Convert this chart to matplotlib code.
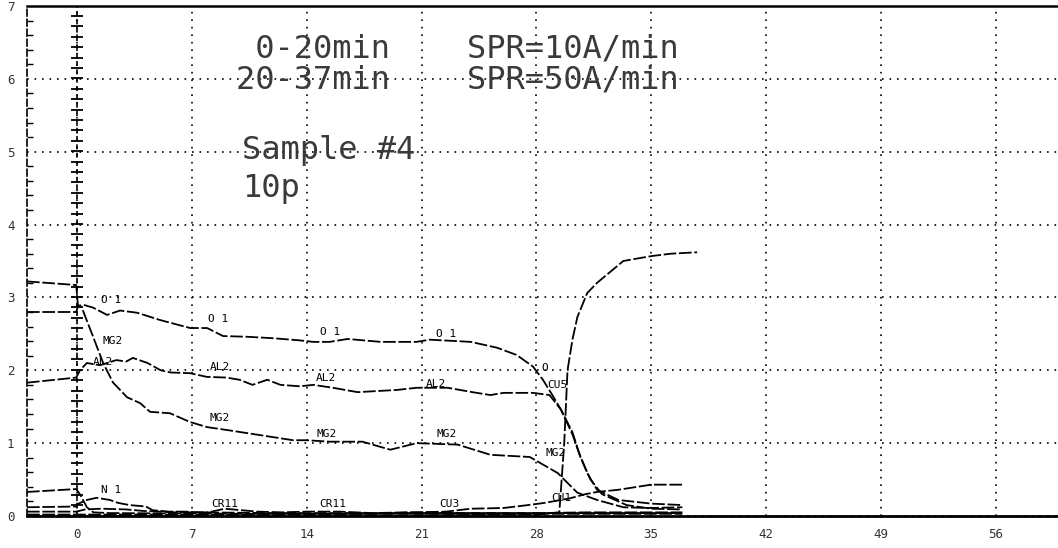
import matplotlib
matplotlib.use('Agg')
import matplotlib.pyplot as plt
import numpy as np

# sputter depth profile, sample #4 - x is sputter time (min), y is signal
o1_x = [-3.05, -0.05, 0.06, 0.37, 0.98, 1.83, 2.62, 3.66, 5.06, 6.89, 7.93, 8.9, 10.37, 11.95,
        13.6, 14.4, 15.4, 16.5, 18.5, 20.7, 21.5, 24.0, 25.6, 26.8, 27.8, 28.4, 29.0, 29.5,
        30.2, 30.6, 31.1, 31.7, 33.0, 35.0, 36.9]
o1_y = [2.8, 2.8, 2.88, 2.9, 2.86, 2.76, 2.82, 2.79, 2.69, 2.58, 2.58, 2.47, 2.46, 2.44,
        2.41, 2.39, 2.39, 2.43, 2.39, 2.39, 2.42, 2.39, 2.31, 2.21, 2.05, 1.87, 1.65, 1.46,
        1.15, 0.87, 0.59, 0.36, 0.22, 0.17, 0.15]

mg2_x = [-3.05, -0.05, 0.05, 0.29, 0.98, 1.59, 2.2, 3.05, 3.84, 4.45, 5.67, 6.89, 7.93, 9.15,
         11.16, 13.17, 14.0, 15.4, 17.4, 19.1, 20.7, 23.2, 25.2, 27.6, 29.3, 30.5, 31.7,
         33.3, 34.9, 36.9]
mg2_y = [3.22, 3.17, 2.9, 2.86, 2.46, 2.1, 1.83, 1.63, 1.55, 1.43, 1.41, 1.29, 1.22, 1.18,
         1.11, 1.04, 1.04, 1.02, 1.02, 0.91, 1.0, 0.98, 0.84, 0.81, 0.59, 0.32, 0.22,
         0.12, 0.11, 0.12]

al2_x = [-3.05, -0.05, 0.18, 0.6, 1.4, 2.4, 3.0, 3.4, 4.3, 5.1, 5.7, 6.9, 7.9, 9.1, 9.9, 10.7,
         11.6, 12.4, 13.6, 14.4, 15.6, 17.1, 19.5, 20.7, 22.6, 24.1, 25.2, 26.0, 27.8, 28.8,
         29.5, 30.2, 30.7, 31.3, 32.0, 33.5, 35.0, 36.9]
al2_y = [1.83, 1.9, 2.0, 2.1, 2.07, 2.14, 2.12, 2.17, 2.1, 2.0, 1.97, 1.96, 1.91, 1.9, 1.87, 1.8,
         1.87, 1.8, 1.78, 1.8, 1.76, 1.7, 1.73, 1.76, 1.76, 1.7, 1.66, 1.69, 1.69, 1.66,
         1.46, 1.12, 0.8, 0.5, 0.3, 0.15, 0.1, 0.09]

n1_x = [-3.05, -0.05, 0.0, 0.6, 1.2, 2.0, 2.5, 3.2, 4.2, 4.6, 5.6, 6.6, 7.5, 12.0, 20.0, 28.0, 36.9]
n1_y = [0.12, 0.13, 0.16, 0.22, 0.25, 0.22, 0.18, 0.15, 0.13, 0.08, 0.06, 0.06, 0.05, 0.04,
        0.04, 0.04, 0.04]

c1_x = [-3.05, -0.05, 0.2, 0.6, 1.0, 2.0, 10.0, 20.0, 30.0, 36.9]
c1_y = [0.33, 0.37, 0.29, 0.12, 0.05, 0.04, 0.03, 0.03, 0.03, 0.03]

cr11_x = [-3.05, -0.05, 0.5, 1.5, 3.0, 4.0, 6.0, 8.0, 9.0, 10.0, 11.0, 12.5, 14.0, 16.0, 18.0,
          20.0, 24.0, 28.0, 31.0, 36.9]
cr11_y = [0.06, 0.06, 0.09, 0.1, 0.09, 0.07, 0.05, 0.05, 0.1, 0.08, 0.06, 0.05, 0.06, 0.06, 0.04,
          0.05, 0.04, 0.04, 0.05, 0.05]

cu3_x = [-3.05, 0.0, 10.0, 18.0, 20.5, 22.5, 24.0, 26.0, 27.5, 28.5, 30.0, 31.0, 31.7, 33.0,
         35.0, 36.9]
cu3_y = [0.02, 0.02, 0.02, 0.03, 0.05, 0.06, 0.1, 0.11, 0.15, 0.18, 0.24, 0.3, 0.33, 0.36,
         0.43, 0.43]

cu5_x = [-3.05, 10.0, 20.0, 28.0, 29.4, 29.7, 29.9, 30.2, 30.5, 31.1, 31.7, 32.5, 33.3, 34.3,
         35.1, 36.2, 37.8]
cu5_y = [0.01, 0.01, 0.01, 0.02, 0.05, 1.0, 2.0, 2.42, 2.73, 3.06, 3.2, 3.35, 3.5, 3.54,
         3.57, 3.6, 3.62]

# curve tags written on the trace by the plotter
tag_text = ['O 1', 'O 1', 'O 1', 'O 1', 'MG2', 'AL2', 'AL2', 'AL2', 'AL2', 'MG2', 'MG2', 'MG2',
            'MG2', 'O', 'CU5', 'N 1', 'CR11', 'CR11', 'CU3', 'CU1']
tag_x = [2.1, 8.6, 15.4, 22.5, 2.2, 1.6, 8.7, 15.2, 21.9, 8.7, 15.2, 22.5, 29.2, 28.5, 29.3,
         2.1, 9.0, 15.6, 22.7, 29.5]
tag_y = [2.96, 2.7, 2.52, 2.5, 2.4, 2.12, 2.04, 1.9, 1.81, 1.35, 1.13, 1.13, 0.87, 2.03, 1.8,
         0.36, 0.17, 0.17, 0.17, 0.25]

x_ticks = [0, 7, 14, 21, 28, 35, 42, 49, 56]
y_ticks = [0, 1, 2, 3, 4, 5, 6, 7]

mono = 'DejaVu Sans Mono'
trace = (0, (7, 1.5))

fig = plt.figure(figsize=(10.58, 5.48), dpi=100)
ax = fig.add_axes([27 / 1058, 32 / 548, 1031 / 1058, 510 / 548])
ax.set_xlim(-3.05, 59.8)
ax.set_ylim(0, 7)

ax.set_xticks(x_ticks)
ax.set_yticks(y_ticks)
ax.set_xticklabels([str(t) for t in x_ticks], family=mono, fontsize=9, color='#333333')
ax.set_yticklabels([str(t) for t in y_ticks], family=mono, fontsize=9, color='#333333')
ax.set_yticks(np.arange(0, 7, 0.2), minor=True)
ax.tick_params(axis='both', which='major', length=0)
ax.tick_params(axis='x', pad=9)
ax.tick_params(axis='y', pad=9)
ax.tick_params(axis='y', which='minor', direction='in', length=4, width=1, color='black')
ax.grid(True, color='black', linestyle=(0, (1, 3.5)), linewidth=1.2)

ax.spines['right'].set_visible(False)
ax.spines['top'].set_linewidth(1.8)
ax.spines['bottom'].set_linewidth(2)
ax.spines['left'].set_linewidth(1.2)
ax.spines['left'].set_linestyle((0, (4, 2)))

# start-of-sputter cursor at t=0
ax.axvline(0, color='black', lw=1.2, linestyle=(0, (3, 2)), zorder=3)
cursor_marks = np.arange(0.15, 7, 1 / 7)
ax.plot(np.zeros(len(cursor_marks)), cursor_marks, ls='none', marker='_', ms=9, mew=1.3,
        color='black', zorder=3)

for xs, ys in [(o1_x, o1_y), (mg2_x, mg2_y), (al2_x, al2_y), (n1_x, n1_y), (c1_x, c1_y),
               (cr11_x, cr11_y), (cu3_x, cu3_y), (cu5_x, cu5_y)]:
    ax.plot(xs, ys, color='black', lw=1.3, linestyle=trace, zorder=4)

for t, x, y in zip(tag_text, tag_x, tag_y):
    ax.text(x, y, t, family=mono, fontsize=8, ha='center', va='center', color='black', zorder=5)

# plotter header, written as two blocks so the lines sit tight like the original
big = dict(family=mono, fontsize=23, ha='left', va='center', color='#3a3a3a', zorder=5)
ax.text(9.7, 6.2, ' 0-20min    SPR=10A/min\n20-37min    SPR=50A/min', linespacing=1.0, **big)
ax.text(10.06, 4.76, 'Sample #4\n10p', linespacing=1.28, **big)

fig.savefig('out.png', dpi=100)
